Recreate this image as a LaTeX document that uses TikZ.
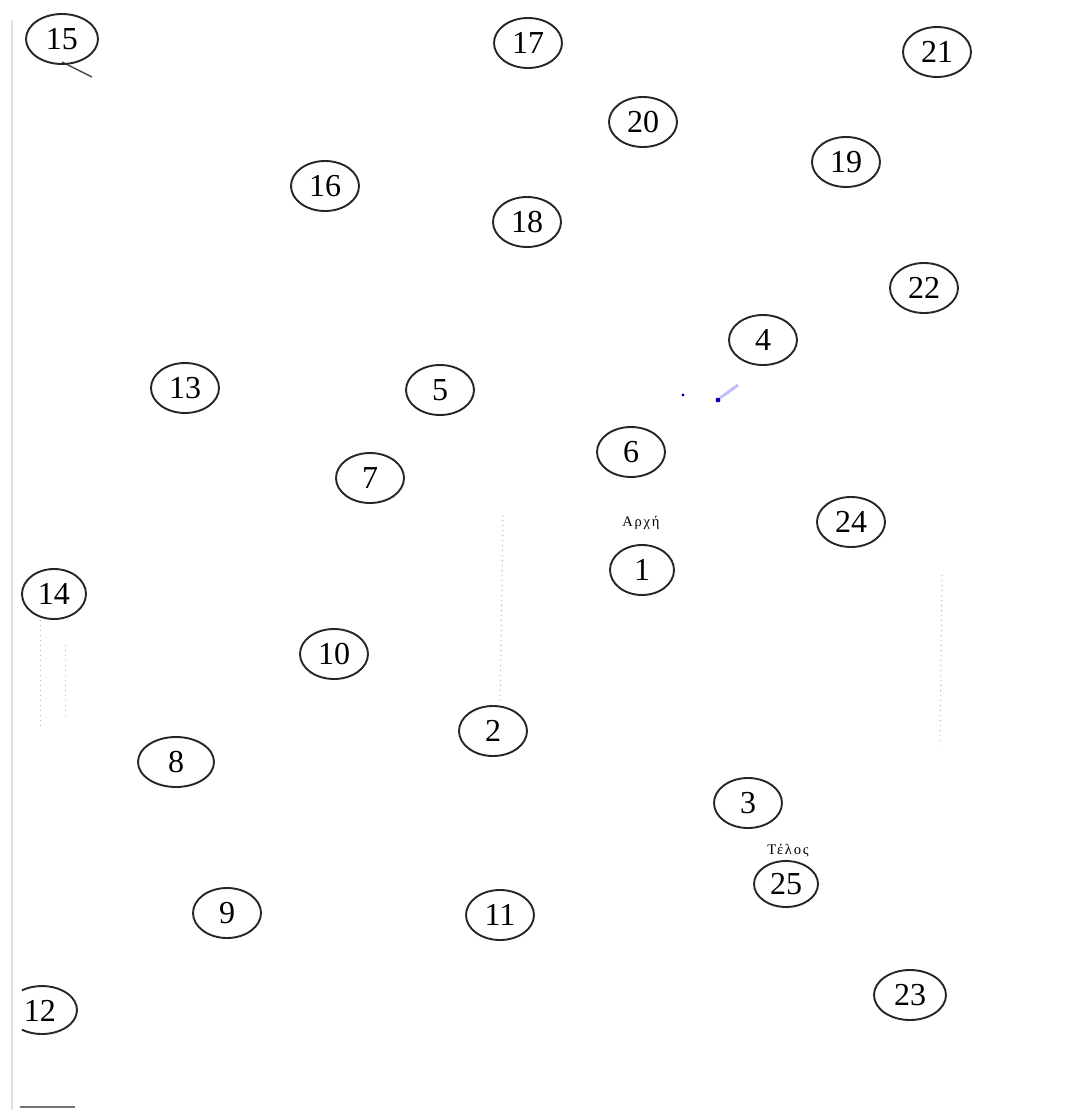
\documentclass[tikz,border=0pt]{standalone}
\usepackage{fontspec}
\setmainfont{Liberation Serif}
\newfontfamily\lblfont[LetterSpace=12]{Liberation Serif}
\usetikzlibrary{shapes.geometric}
\begin{document}
\begin{tikzpicture}[x=0.5pt,y=-0.5pt,
  num/.style={ellipse,draw=black!85,line width=0.95pt,minimum width=34pt,minimum height=25pt,inner sep=0pt,font=\fontsize{16}{18}\selectfont},
  numplain/.style={inner sep=0pt,font=\fontsize{16}{18}\selectfont},
  lbl/.style={inner sep=0pt,font=\lblfont\fontsize{7.3}{9}\selectfont},
  scan/.style={black!30,line width=0.5pt,dotted}]
\useasboundingbox (0,0) rectangle (1088,1120);
% scan artefacts
\draw[black!12,line width=1pt] (12,20) -- (12,1110);
\draw[scan] (503,515) -- (500,705);
\draw[scan] (942,575) -- (940,745);
\draw[scan] (40,620) -- (40,730);
\draw[scan] (65,645) -- (65,720);
\draw[black!55,line width=0.6pt] (20,1107) -- (75,1107);
\draw[black!70,line width=0.7pt] (62,62) -- (92,77);
\fill[blue!70!black] (683,395) circle (1.6);
\fill[blue!70!black] (718,400) circle (2.4);
\draw[blue!25,line width=1.5pt] (720,398) -- (738,385);
% nodes
\node[num,minimum width=36pt] (n15) at (62,39) {15};
\node[num] (n17) at (528,43) {17};
\node[num] (n21) at (937,52) {21};
\node[num] (n20) at (643,122) {20};
\node[num] (n19) at (846,162) {19};
\node[num] (n16) at (325,186) {16};
\node[num] (n18) at (527,222) {18};
\node[num] (n22) at (924,288) {22};
\node[num] (n4) at (763,340) {4};
\node[num] (n13) at (185,388) {13};
\node[num] (n5) at (440,390) {5};
\node[num] (n6) at (631,452) {6};
\node[num] (n7) at (370,478) {7};
\node[num] (n24) at (851,522) {24};
\node[num,minimum width=32pt] (n1) at (642,570) {1};
\node[num,minimum width=32pt] (n14) at (54,594) {14};
\node[num] (n10) at (334,654) {10};
\node[num] (n2) at (493,731) {2};
\node[num,minimum width=38pt] (n8) at (176,762) {8};
\node[num] (n3) at (748,803) {3};
\node[num,minimum width=32pt,minimum height=23pt] (n25) at (786,884) {25};
\node[num] (n9) at (227,913) {9};
\node[num] (n11) at (500,915) {11};
\node[num,minimum width=36pt] (n23) at (910,995) {23};
\node[numplain] (n12) at (40,1011) {12};
\draw[black!85,line width=0.95pt] (42,1010) ++(125:35 and 24) arc[start angle=125,end angle=-125,x radius=35,y radius=24];
\node[lbl] (start) at (641,523) {Αρχή};
\node[lbl] (end) at (788,851) {Τέλος};
\end{tikzpicture}
\end{document}
